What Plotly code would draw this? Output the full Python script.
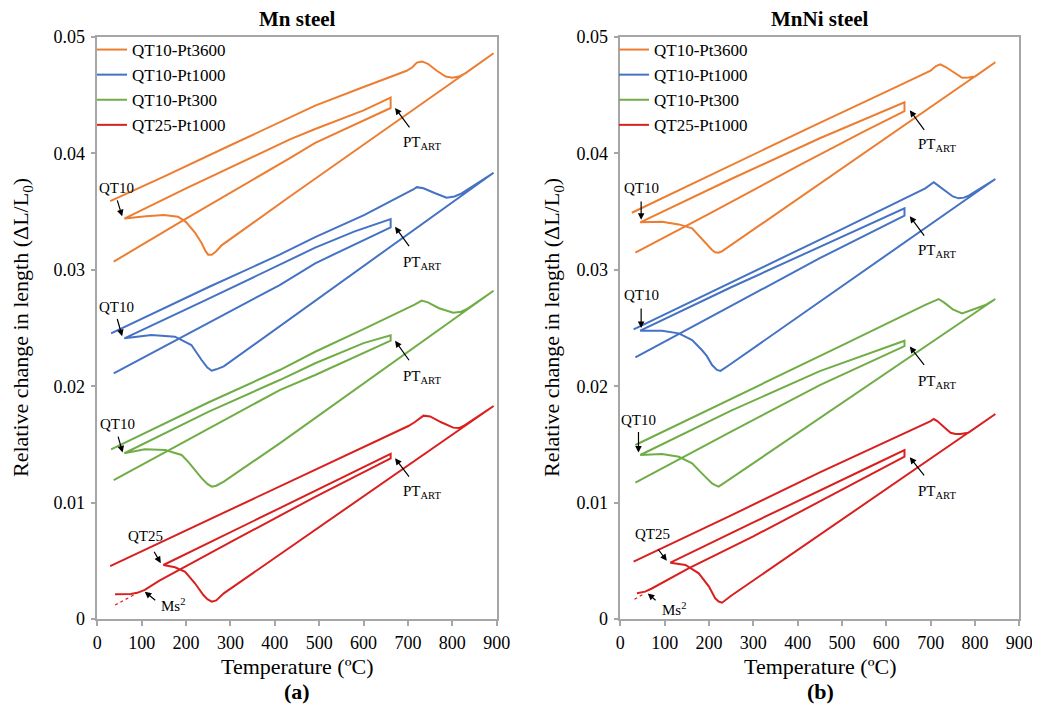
import plotly.graph_objects as go

W, H = 1040, 710
OFF = 8  # the page body margin shifts the figure by 8 px
ML, MR, MT, MB = 20, 15, 22, 5
IW, IH = W - ML - MR, H - MT - MB
FONT = "Liberation Serif, Times New Roman, serif"

names = ["QT10-Pt3600", "QT10-Pt1000", "QT10-Pt300", "QT25-Pt1000"]
colors = ["#ED7D31", "#4472C4", "#70AD47", "#D9201F"]

# ---------------- Mn steel (a) : path = heating -> austenite cooling -> quench -> reheat -> hold -> final cooling
mn_o_T = [29,150,300,491,600,697,710,720,732,745,765,785,800,815,830,893,
          434,280,268,258,250,244,235,220,200,182,150,110,61,
          200,434,491,600,661,661,
          491,434,200,37]
mn_o_V = [0.0359,0.0380,0.0407,0.0441,0.0457,0.0471,0.0474,0.0478,0.0479,0.0477,0.0471,0.0466,0.0465,0.0466,0.0469,0.0486,
          0.0363,0.0321,0.0316,0.0313,0.0313,0.0316,0.0323,0.0332,0.0341,0.03456,0.0347,0.0346,0.0344,
          0.0370,0.0412,0.0421,0.0437,0.0448,0.0439,
          0.0409,0.0396,0.0344,0.0307]

mn_b_T = [31,250,411,491,601,701,712,720,735,760,787,805,821,893,
          411,285,268,258,248,235,212,190,175,122,61,
          250,411,491,580,661,661,
          491,411,200,37]
mn_b_V = [0.02454,0.0285,0.0313,0.0328,0.0347,0.03663,0.0369,0.0371,0.0370,0.0366,0.0362,0.0363,0.03657,0.03834,
          0.02511,0.0217,0.02145,0.02133,0.0216,0.02225,0.02354,0.0240,0.02425,0.0244,0.02411,
          0.0275,0.0304,0.0319,0.0333,0.03436,0.03365,
          0.03056,0.02869,0.0244,0.02111]

mn_g_T = [31,250,411,491,600,701,715,731,745,770,802,820,832,893,
          411,285,268,258,248,235,220,205,190,153,107,61,
          250,411,491,600,661,661,
          491,411,200,37]
mn_g_V = [0.01458,0.0186,0.02139,0.02296,0.0249,0.02669,0.0270,0.02735,0.0272,0.0267,0.02632,0.0264,0.02661,0.0282,
          0.01509,0.0118,0.01145,0.01137,0.0116,0.0121,0.0128,0.0135,0.01409,0.01452,0.01458,0.01424,
          0.0178,0.02053,0.02197,0.0237,0.02437,0.02391,
          0.02096,0.01967,0.0153,0.01194]

mn_r_T = [29,250,491,600,701,715,735,750,775,802,815,825,893,
          285,268,258,248,239,220,198,175,149,
          300,491,600,661,661,
          491,300,198,140,107,90,75,40]
mn_r_V = [0.00455,0.0085,0.0128,0.0148,0.01658,0.0169,0.01747,0.0174,0.0169,0.01644,0.0164,0.01658,0.0183,
          0.0022,0.0016,0.00149,0.0017,0.00206,0.00307,0.00406,0.00444,0.00464,
          0.00745,0.0110,0.0130,0.01418,0.0138,
          0.0105,0.0066,0.0045,0.0033,0.0025,0.00225,0.00215,0.00212]
mn_r_dash_T = [40, 82]
mn_r_dash_V = [0.0012, 0.00206]

# ---------------- MnNi steel (b)
nn_o_T = [26,200,432,600,688,700,712,722,735,750,771,786,800,846,
          240,230,222,214,207,195,184,162,132,94,45,
          250,450,550,641,641,
          550,400,200,34]
nn_o_V = [0.0349,0.0381,0.0423,0.0453,0.04688,0.0471,0.0475,0.04765,0.0474,0.0470,0.0465,0.04652,0.0466,0.04783,
          0.0319,0.0316,0.03147,0.0315,0.0317,0.0322,0.0327,0.03356,0.0339,0.03413,0.03408,
          0.0378,0.0413,0.0429,0.04439,0.04364,
          0.0419,0.0389,0.0348,0.03147]

nn_b_T = [30,300,500,688,700,707,715,735,750,763,775,786,846,
          245,235,226,218,207,195,184,162,132,94,45,
          250,450,641,641,
          450,250,34]
nn_b_V = [0.02489,0.0298,0.0335,0.0370,0.0373,0.03752,0.0373,0.0367,0.0363,0.03614,0.0362,0.03637,0.0378,
          0.0218,0.0215,0.02131,0.0214,0.02182,0.0226,0.02311,0.02397,0.02454,0.02477,0.02477,
          0.0285,0.0320,0.03528,0.03465,
          0.0310,0.0269,0.02248]

nn_g_T = [34,300,500,688,705,718,730,750,771,800,825,846,
          240,230,222,214,207,184,162,132,94,45,
          250,450,580,641,641,
          580,450,250,34]
nn_g_V = [0.01495,0.0198,0.0235,0.02698,0.0273,0.02749,0.0272,0.0266,0.02626,0.02665,0.0270,0.02749,
          0.0118,0.0115,0.01137,0.0115,0.01165,0.01251,0.01337,0.01394,0.01418,0.01409,
          0.0179,0.0213,0.0231,0.02391,0.02345,
          0.0224,0.0201,0.0161,0.01171]

nn_r_T = [30,250,450,600,692,700,707,715,730,745,756,767,785,846,
          250,238,229.5,222,214,200,177,147,113,
          300,450,580,641,641,
          450,300,154,100,70,56,37.6]
nn_r_V = [0.00493,0.0089,0.0126,0.0152,0.01681,0.0170,0.01718,0.0170,0.0165,0.0160,0.01589,0.0159,0.0160,0.01761,
          0.0020,0.0016,0.0014,0.0015,0.00178,0.00278,0.00392,0.00464,0.00484,
          0.0083,0.0110,0.0134,0.01452,0.01394,
          0.0101,0.0071,0.00435,0.0032,0.0026,0.00235,0.00221]
nn_r_dash_T = [32, 50]
nn_r_dash_V = [0.0017, 0.0021]

x_ticks = [0, 100, 200, 300, 400, 500, 600, 700, 800, 900]
y_ticks = [0, 0.01, 0.02, 0.03, 0.04, 0.05]
y_tick_text = ["0", "0.01", "0.02", "0.03", "0.04", "0.05"]

# annotation anchors: (label, label T, label value, arrow tail T, tail value, arrow head T, head value)
mn_qt_labels = [("QT10", 44, 0.0370, 44, 0.0361, 56, 0.0346),
                ("QT10", 44, 0.0268, 44, 0.0259, 56, 0.0243),
                ("QT10", 46, 0.01675, 46, 0.0158, 57, 0.0143),
                ("QT25", 108, 0.0071, 126, 0.0059, 143, 0.0048)]
mn_ms = ("Ms<sup>2</sup>", 170, 0.0012, 134, 0.0015, 107, 0.00235)
mn_pt = [(731, 0.0409, 706, 0.0421, 671, 0.0439),
         (731, 0.0306, 705, 0.0319, 671, 0.0337),
         (731, 0.0208, 705, 0.0221, 671, 0.0239),
         (731, 0.0109, 705, 0.0121, 671, 0.0138)]
nn_qt_labels = [("QT10", 47, 0.0370, 47, 0.0360, 47, 0.0343),
                ("QT10", 47, 0.0278, 47, 0.0268, 47, 0.0250),
                ("QT10", 41, 0.0171, 41, 0.0162, 41, 0.0143),
                ("QT25", 72, 0.0073, 83, 0.0061, 105, 0.0050)]
nn_ms = ("Ms<sup>2</sup>", 121, 0.0009, 83, 0.0015, 62, 0.0022)
nn_pt = [(714, 0.0407, 688, 0.0419, 653, 0.0437),
         (714, 0.0316, 688, 0.0328, 653, 0.0346),
         (714, 0.0204, 688, 0.0217, 653, 0.0234),
         (714, 0.0109, 688, 0.0122, 653, 0.0139)]

fig = go.Figure()

mn_series = [(mn_o_T, mn_o_V), (mn_b_T, mn_b_V), (mn_g_T, mn_g_V), (mn_r_T, mn_r_V)]
nn_series = [(nn_o_T, nn_o_V), (nn_b_T, nn_b_V), (nn_g_T, nn_g_V), (nn_r_T, nn_r_V)]

for i, (t, v) in enumerate(mn_series):
    fig.add_trace(go.Scatter(x=t, y=v, mode="lines", name=names[i],
                             line=dict(color=colors[i], width=2),
                             xaxis="x", yaxis="y", legend="legend"))
fig.add_trace(go.Scatter(x=mn_r_dash_T, y=mn_r_dash_V, mode="lines", showlegend=False,
                         line=dict(color=colors[3], width=1.2, dash="dot"), xaxis="x", yaxis="y"))
for i, (t, v) in enumerate(nn_series):
    fig.add_trace(go.Scatter(x=t, y=v, mode="lines", name=names[i],
                             line=dict(color=colors[i], width=2),
                             xaxis="x2", yaxis="y2", legend="legend2"))
fig.add_trace(go.Scatter(x=nn_r_dash_T, y=nn_r_dash_V, mode="lines", showlegend=False,
                         line=dict(color=colors[3], width=1.2, dash="dot"), xaxis="x2", yaxis="y2"))

ann = []
def add_arrow(xr, yr, tx, ty, hx, hy):
    ann.append(dict(x=hx, y=hy, ax=tx, ay=ty, xref=xr, yref=yr, axref=xr, ayref=yr,
                    text="", showarrow=True, arrowhead=2, arrowsize=1.1, arrowwidth=1.2,
                    arrowcolor="black", standoff=0, startstandoff=0))
def add_text(xr, yr, x, y, txt, size=15):
    ann.append(dict(x=x, y=y, xref=xr, yref=yr, text=txt, showarrow=False,
                    xanchor="center", yanchor="middle",
                    font=dict(family=FONT, size=size, color="black")))

for (xr, yr, qts, ms, pts) in [("x", "y", mn_qt_labels, mn_ms, mn_pt), ("x2", "y2", nn_qt_labels, nn_ms, nn_pt)]:
    for (txt, lx, ly, tx, ty, hx, hy) in qts:
        add_text(xr, yr, lx, ly, txt)
        add_arrow(xr, yr, tx, ty, hx, hy)
    add_text(xr, yr, ms[1], ms[2], ms[0])
    add_arrow(xr, yr, ms[3], ms[4], ms[5], ms[6])
    for (lx, ly, tx, ty, hx, hy) in pts:
        add_text(xr, yr, lx, ly, "PT<sub>ART</sub>")
        add_arrow(xr, yr, tx, ty, hx, hy)

def px2paper_x(px):
    return (px - OFF - ML) / IW
def px2paper_y(py):
    return (H - MB - (py - OFF)) / IH

def paper_text(cx, cy, txt, size=22, angle=0):
    ann.append(dict(x=px2paper_x(cx), y=px2paper_y(cy), xref="paper", yref="paper",
                    text=txt, showarrow=False, xanchor="center", yanchor="middle", textangle=angle,
                    font=dict(family=FONT, size=size, color="black")))

for cx, title, lab in [(297, "Mn steel", "(a)"), (820, "MnNi steel", "(b)")]:
    paper_text(cx, 19, "<b>" + title + "</b>", size=21)
    paper_text(cx, 666, "Temperature (ºC)")
    paper_text(cx, 691, "<b>" + lab + "</b>")
for cx in [22, 553]:
    paper_text(cx, 328, "Relative change in length (ΔL/L<sub>0</sub>)", angle=-90)

axis_common = dict(showgrid=False, zeroline=False, showline=True, mirror=True,
                   linecolor="#A6A6A6", linewidth=1.5, ticks="outside", ticklen=5,
                   tickcolor="#A6A6A6", tickwidth=1.5, automargin=False,
                   tickfont=dict(family=FONT, size=18, color="black"))

ydom = [px2paper_y(619), px2paper_y(37)]
fig.update_layout(
    width=W, height=H, margin=dict(l=ML, r=MR, t=MT, b=MB, autoexpand=False),
    paper_bgcolor="white", plot_bgcolor="white",
    xaxis=dict(domain=[px2paper_x(97.3), px2paper_x(496.7)], range=[0, 900], tickvals=x_ticks,
               anchor="y", ticklabelstandoff=2, **axis_common),
    yaxis=dict(domain=ydom, range=[0, 0.05], tickvals=y_ticks, ticktext=y_tick_text, anchor="x",
               ticklabelstandoff=2, **axis_common),
    xaxis2=dict(domain=[px2paper_x(620.3), px2paper_x(1019.3)], range=[0, 900], tickvals=x_ticks,
                anchor="y2", ticklabelstandoff=2, **axis_common),
    yaxis2=dict(domain=ydom, range=[0, 0.05], tickvals=y_ticks, ticktext=y_tick_text, anchor="x2",
                ticklabelstandoff=2, **axis_common),
    legend=dict(x=px2paper_x(92), y=px2paper_y(32), xanchor="left", yanchor="top", bgcolor="rgba(0,0,0,0)",
                font=dict(family=FONT, size=17, color="black")),
    legend2=dict(x=px2paper_x(614), y=px2paper_y(32), xanchor="left", yanchor="top", bgcolor="rgba(0,0,0,0)",
                 font=dict(family=FONT, size=17, color="black")),
    annotations=ann,
    showlegend=True,
)

fig.write_html("out.html")
